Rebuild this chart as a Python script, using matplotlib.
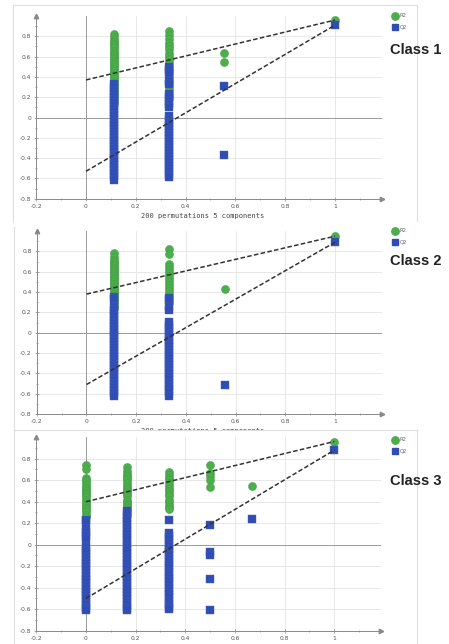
import matplotlib
matplotlib.use('Agg')
import matplotlib.pyplot as plt
from matplotlib.lines import Line2D
from matplotlib.transforms import Bbox

W, H = 449, 644

GREEN = '#4cae4c'
BLUE = '#2f4db2'

# ---- Class 1 ----
class1_x = [0.111, 0.333, 0.556, 1.0]
class1_r2 = [
    [0.82, 0.79, 0.76, 0.74, 0.72, 0.70, 0.68, 0.66, 0.64, 0.62, 0.60, 0.58, 0.56, 0.54, 0.52, 0.50,
     0.48, 0.46, 0.44, 0.42, 0.40, 0.38, 0.36, 0.34, 0.32, 0.30, 0.28, 0.26, 0.24, 0.22, 0.20, 0.17, 0.14],
    [0.85, 0.81, 0.77, 0.73, 0.70, 0.67, 0.64, 0.61, 0.58, 0.55, 0.52, 0.49, 0.46, 0.43, 0.40, 0.37,
     0.34, 0.31, 0.28, 0.25, 0.22, 0.19],
    [0.64, 0.55],
    [0.96],
]
class1_q2 = [
    [0.33, 0.30, 0.26, 0.23, 0.20, 0.17, 0.14, 0.11, 0.08, 0.05, 0.02, -0.01, -0.04, -0.07, -0.10, -0.13,
     -0.16, -0.19, -0.22, -0.25, -0.28, -0.31, -0.34, -0.37, -0.40, -0.43, -0.46, -0.49, -0.52, -0.55,
     -0.58, -0.62],
    [0.50, 0.47, 0.44, 0.36, 0.33, 0.23, 0.20, 0.16, 0.13, 0.10, 0.01, -0.02, -0.05, -0.08, -0.11, -0.14,
     -0.17, -0.20, -0.23, -0.26, -0.29, -0.32, -0.35, -0.38, -0.41, -0.44, -0.47, -0.50, -0.53, -0.56, -0.59],
    [0.31, -0.37],
    [0.91],
]
class1_r2_line = [0.37, 0.96]
class1_q2_line = [-0.53, 0.91]

# ---- Class 2 ----
class2_x = [0.111, 0.333, 0.556, 1.0]
class2_r2 = [
    [0.78, 0.75, 0.72, 0.70, 0.68, 0.66, 0.64, 0.62, 0.60, 0.58, 0.56, 0.54, 0.52, 0.50, 0.48, 0.46,
     0.44, 0.42, 0.40, 0.38, 0.36, 0.34, 0.32, 0.30, 0.28, 0.26, 0.24],
    [0.82, 0.77, 0.68, 0.65, 0.62, 0.59, 0.56, 0.53, 0.50, 0.47, 0.44, 0.41, 0.38, 0.35, 0.32, 0.29],
    [0.43],
    [0.95],
]
class2_q2 = [
    [0.35, 0.33, 0.25, 0.22, 0.19, 0.16, 0.13, 0.10, 0.07, 0.04, 0.01, -0.02, -0.05, -0.08, -0.11, -0.14,
     -0.17, -0.20, -0.23, -0.26, -0.29, -0.32, -0.35, -0.38, -0.41, -0.44, -0.47, -0.50, -0.53, -0.56,
     -0.59, -0.62],
    [0.34, 0.32, 0.25, 0.22, 0.11, 0.08, 0.05, 0.02, -0.01, -0.04, -0.07, -0.10, -0.13, -0.16, -0.19,
     -0.22, -0.25, -0.28, -0.31, -0.34, -0.37, -0.40, -0.43, -0.46, -0.49, -0.52, -0.55, -0.58, -0.62],
    [-0.51],
    [0.89],
]
class2_r2_line = [0.38, 0.95]
class2_q2_line = [-0.51, 0.89]

# ---- Class 3 ----
class3_x = [0.0, 0.167, 0.333, 0.5, 0.667, 1.0]
class3_r2 = [
    [0.74, 0.70, 0.62, 0.60, 0.58, 0.56, 0.54, 0.52, 0.50, 0.48, 0.46, 0.44, 0.42, 0.40, 0.38, 0.36,
     0.34, 0.32, 0.30, 0.28, 0.26],
    [0.72, 0.69, 0.66, 0.64, 0.62, 0.60, 0.57, 0.55, 0.53, 0.51, 0.49, 0.47, 0.45, 0.42, 0.40, 0.38,
     0.36, 0.34, 0.32, 0.30, 0.28],
    [0.68, 0.65, 0.62, 0.60, 0.57, 0.55, 0.52, 0.50, 0.47, 0.45, 0.42, 0.40, 0.37, 0.35, 0.33],
    [0.74, 0.67, 0.64, 0.60, 0.54],
    [0.55],
    [0.96],
]
class3_q2 = [
    [0.23, 0.22, 0.15, 0.12, 0.08, 0.05, -0.02, -0.05, -0.08, -0.11, -0.14, -0.17, -0.20, -0.23, -0.26,
     -0.29, -0.32, -0.35, -0.38, -0.41, -0.44, -0.47, -0.50, -0.53, -0.56, -0.59, -0.61],
    [0.31, 0.28, 0.25, 0.22, 0.19, 0.16, 0.13, 0.10, 0.07, 0.04, 0.01, -0.02, -0.05, -0.08, -0.11, -0.14,
     -0.17, -0.20, -0.23, -0.26, -0.29, -0.32, -0.35, -0.38, -0.41, -0.44, -0.47, -0.50, -0.53, -0.56,
     -0.59, -0.61],
    [0.23, 0.11, 0.08, 0.05, 0.02, -0.01, -0.04, -0.07, -0.10, -0.13, -0.16, -0.19, -0.22, -0.25, -0.28,
     -0.31, -0.34, -0.37, -0.40, -0.43, -0.46, -0.49, -0.52, -0.55, -0.58, -0.60],
    [0.18, -0.07, -0.10, -0.32, -0.61],
    [0.24],
    [0.88],
]
class3_r2_line = [0.40, 0.96]
class3_q2_line = [-0.50, 0.88]

x_ticks = [-0.2, 0, 0.2, 0.4, 0.6, 0.8, 1]
x_tick_labels = ['-0.2', '0', '0.2', '0.4', '0.6', '0.8', '1']
y_ticks = [-0.8, -0.6, -0.4, -0.2, 0, 0.2, 0.4, 0.6, 0.8]
y_tick_labels = ['-0.8', '-0.6', '-0.4', '-0.2', '0', '0.2', '0.4', '0.6', '0.8']
xlabel_text = '200 permutations 5 components'


def fx(px):
    return px / W


def fy(py):
    return 1 - py / H


def add_axes_px(fig, left, top, right, bottom):
    return fig.add_axes([fx(left), fy(bottom), (right - left) / W, (bottom - top) / H])


def fig_line(fig, xs, ys, color='#dedede', lw=0.8, z=1):
    fig.add_artist(Line2D([fx(v) for v in xs], [fy(v) for v in ys], color=color, lw=lw, zorder=z))


def draw_panel(ax, xs, r2, q2, r2_line, q2_line):
    ax.set_xlim(-0.2, 1.19)
    ax.set_ylim(-0.8, 1.0)
    ax.set_facecolor('none')
    for s in ['top', 'right']:
        ax.spines[s].set_visible(False)
    for s in ['left', 'bottom']:
        ax.spines[s].set_color('#8a8a8a')
        ax.spines[s].set_linewidth(0.7)

    for v in [0.2, 0.4, 0.6, 0.8, 1.0]:
        ax.axvline(v, color='#e4e4e4', lw=0.6, zorder=0)
    for v in [-0.6, -0.4, -0.2, 0.2, 0.4, 0.6, 0.8]:
        ax.axhline(v, color='#e4e4e4', lw=0.6, zorder=0)
    ax.axvline(0, color='#9a9a9a', lw=0.7, zorder=1)
    ax.axhline(0, color='#9a9a9a', lw=0.7, zorder=1)

    # arrow heads on the axes
    ax.plot([0], [1.0], marker='^', color='#8a8a8a', ms=3.2, transform=ax.transAxes, clip_on=False)
    ax.plot([1.0], [0], marker='>', color='#8a8a8a', ms=3.2, transform=ax.transAxes, clip_on=False)

    ax.set_xticks(x_ticks)
    ax.set_xticklabels(x_tick_labels)
    ax.set_yticks(y_ticks)
    ax.set_yticklabels(y_tick_labels)
    ax.set_xticks([-0.1, 0.1, 0.3, 0.5, 0.7, 0.9, 1.1], minor=True)
    ax.set_yticks([-0.7, -0.5, -0.3, -0.1, 0.1, 0.3, 0.5, 0.7, 0.9], minor=True)
    ax.tick_params(which='major', direction='inout', length=3.5, width=0.5, color='#8a8a8a',
                   labelsize=4.3, labelcolor='#555555', pad=2)
    ax.tick_params(which='minor', direction='inout', length=2, width=0.5, color='#8a8a8a')

    for x, vals in zip(xs, r2):
        ax.scatter([x] * len(vals), vals, s=34, marker='o', color=GREEN, edgecolors='#3f9a3f',
                   linewidths=0.3, zorder=2)
    for x, vals in zip(xs, q2):
        ax.scatter([x] * len(vals), vals, s=28, marker='s', color=BLUE, edgecolors='#4560c0',
                   linewidths=0.3, zorder=3)

    ax.plot([0, 1], r2_line, color='#333333', lw=1.1, ls=(0, (3, 1.5)), zorder=4)
    ax.plot([0, 1], q2_line, color='#333333', lw=1.1, ls=(0, (3, 1.5)), zorder=4)


def add_legend(fig, y_r2, y_q2, label_y, label):
    fig.add_artist(Line2D([fx(394.5)], [fy(y_r2)], marker='o', ms=5.3, color=GREEN, lw=0))
    fig.add_artist(Line2D([fx(394.5)], [fy(y_q2)], marker='s', ms=4.4, color=BLUE, lw=0))
    fig.text(fx(400), fy(y_r2), 'R2', fontsize=3.8, color='#666666', va='center')
    fig.text(fx(400), fy(y_q2), 'Q2', fontsize=3.8, color='#666666', va='center')
    fig.text(fx(390), fy(label_y), label, fontsize=10.5, fontweight='bold',
             family='Liberation Sans', color='#222222', va='center')


fig = plt.figure(figsize=(W / 100, H / 100), dpi=100)
fig.patch.set_facecolor('white')

# panel frames
fig_line(fig, [13, 13], [5, 222])
fig_line(fig, [13, 417], [5, 5])
fig_line(fig, [417, 417], [5, 221])
fig_line(fig, [14, 14], [227, 430])
fig_line(fig, [14, 14], [430, 644])
fig_line(fig, [14, 417], [430, 430])
fig_line(fig, [417, 417], [430, 644])

ax1 = add_axes_px(fig, 36.2, 16.0, 382.3, 198.7)
draw_panel(ax1, class1_x, class1_r2, class1_q2, class1_r2_line, class1_q2_line)
add_legend(fig, 15.7, 26.7, 50, 'Class 1')
fig.text(fx(203), fy(216), xlabel_text, fontsize=5, family='DejaVu Sans Mono',
         color='#444444', ha='center', va='center')

ax2 = add_axes_px(fig, 36.8, 231.1, 382.2, 414.0)
draw_panel(ax2, class2_x, class2_r2, class2_q2, class2_r2_line, class2_q2_line)
add_legend(fig, 231, 241.7, 261, 'Class 2')
t2 = fig.text(fx(203), fy(431), xlabel_text, fontsize=5, family='DejaVu Sans Mono',
              color='#444444', ha='center', va='center')
t2.set_clip_box(Bbox([[0, H - 430], [W, H - 420]]))
t2.set_clip_on(True)

ax3 = add_axes_px(fig, 36.3, 437.2, 381.5, 630.7)
draw_panel(ax3, class3_x, class3_r2, class3_q2, class3_r2_line, class3_q2_line)
add_legend(fig, 439.7, 450.7, 480.7, 'Class 3')

fig.savefig('out.png', dpi=100)
